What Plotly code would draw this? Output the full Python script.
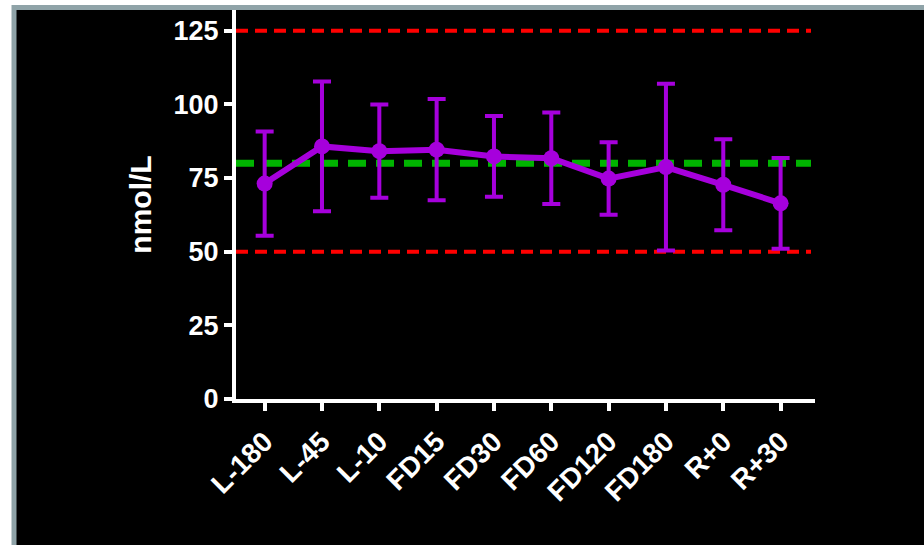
import plotly.graph_objects as go

categories = ["L-180", "L-45", "L-10", "FD15", "FD30", "FD60", "FD120", "FD180", "R+0", "R+30"]
means = [73.1, 85.7, 84.1, 84.6, 82.3, 81.7, 74.8, 78.7, 72.7, 66.4]
sds = [17.7, 22.0, 15.8, 17.2, 13.7, 15.5, 12.3, 28.3, 15.4, 15.4]
ref_red = [125, 50]
ref_green = [80]
y_ticks = [0, 25, 50, 75, 100, 125]

W, H = 924, 545
L, R, T, B = 236, 815, 10, 399
PURPLE = "#a600dc"
FONT = dict(family="Liberation Sans, Arial, sans-serif", color="white", size=26, weight="bold")

def px(x):
    return (x - L) / (R - L)

def py(y):
    return (B - y) / (B - T)

fig = go.Figure()
fig.add_trace(go.Scatter(
    x=list(range(len(categories))), y=means, mode="lines+markers",
    line=dict(color=PURPLE, width=6),
    marker=dict(color=PURPLE, size=16),
    error_y=dict(type="data", array=sds, visible=True, color=PURPLE, thickness=4, width=9),
    showlegend=False, cliponaxis=False,
))

shapes = [
    dict(type="rect", xref="paper", yref="paper", x0=px(14), x1=px(940), y0=py(7.5), y1=py(560),
         fillcolor="black", line=dict(color="#8fa3a8", width=5), layer="below"),
]
for v in ref_red:
    shapes.append(dict(type="line", xref="paper", yref="y", x0=0, x1=px(811), y0=v, y1=v,
                       line=dict(color="#ff0000", width=4, dash="12px,7px"), layer="below"))
for v in ref_green:
    shapes.append(dict(type="line", xref="paper", yref="y", x0=0, x1=px(811), y0=v, y1=v,
                       line=dict(color="#00b400", width=7, dash="18px,10px"), layer="below"))

fig.update_layout(
    width=W, height=H,
    margin=dict(l=L, r=W - R, t=T, b=H - B, pad=0),
    paper_bgcolor="white", plot_bgcolor="rgba(0,0,0,0)",
    shapes=shapes,
    font=FONT,
    xaxis=dict(
        range=[-0.5, 9.6], tickmode="array", tickvals=list(range(len(categories))), ticktext=categories,
        tickangle=-45, showgrid=False, zeroline=False, showline=True, linecolor="white", linewidth=4,
        ticks="outside", ticklen=8, tickwidth=4, tickcolor="white", tickfont=dict(FONT, size=28),
        ticklabelstandoff=3,
    ),
    yaxis=dict(
        range=[0, 132], tickmode="array", tickvals=y_ticks, showgrid=False, zeroline=False,
        showline=True, linecolor="white", linewidth=4, ticks="outside", ticklen=8, tickwidth=4,
        tickcolor="white", tickfont=dict(FONT, size=27),
        title=dict(text="nmol/L", font=dict(FONT, size=30), standoff=14),
    ),
)

fig.write_html("out.html", config={"displayModeBar": False},
               post_script="document.body.style.margin='0';document.body.style.overflow='hidden';")
